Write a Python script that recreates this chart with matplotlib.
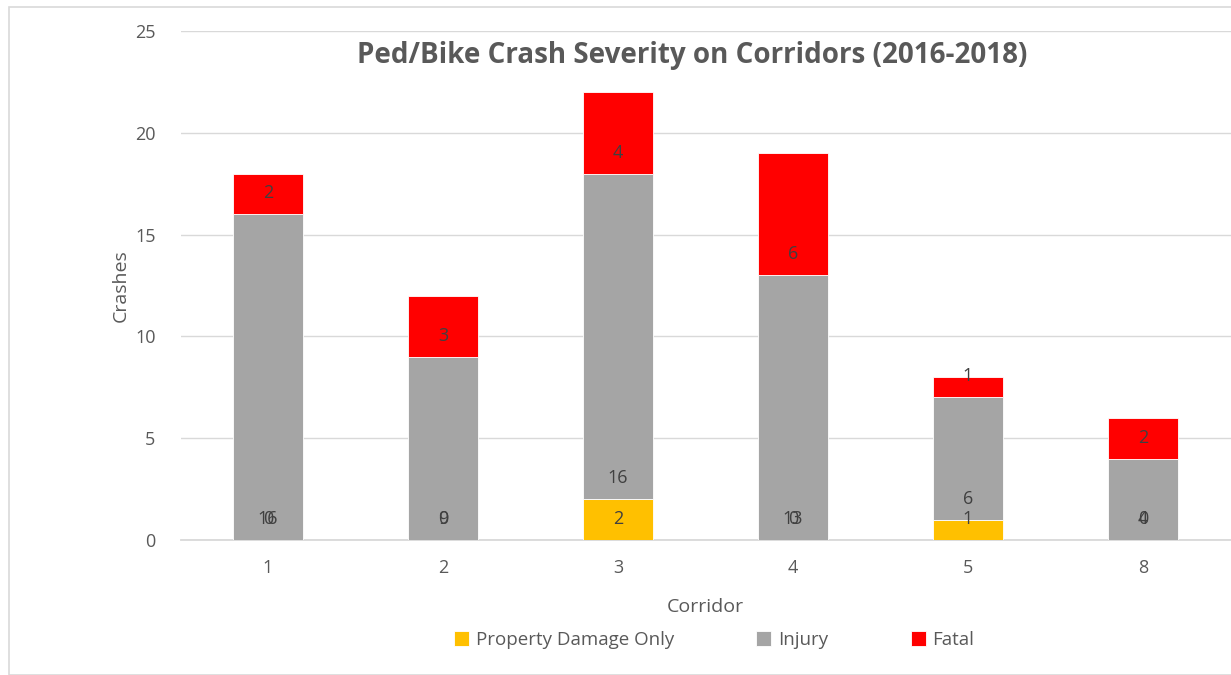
import matplotlib
matplotlib.use("Agg")
import matplotlib.pyplot as plt
from matplotlib.patches import Rectangle
import numpy as np

corridors = ["1", "2", "3", "4", "5", "8"]
property_damage = [0, 0, 2, 0, 1, 0]
injury = [16, 9, 16, 13, 6, 4]
fatal = [2, 3, 4, 6, 1, 2]
series_names = ["Property Damage Only", "Injury", "Fatal"]
colors = ["#FFC000", "#A5A5A5", "#FF0000"]
yticks = [0, 5, 10, 15, 20, 25]

plt.rcParams['font.family'] = ['Open Sans', 'DejaVu Sans']
txt = "#595959"

fig = plt.figure(figsize=(12.31, 6.75), dpi=100)
W, H = 1231, 675
ax = fig.add_axes([180.5 / W, 1 - 540 / H, 1050 / W, 509 / H])

x = np.arange(len(corridors))
bottom = np.zeros(len(corridors))
series = [property_damage, injury, fatal]
for name, vals, c in zip(series_names, series, colors):
    vals = np.array(vals, dtype=float)
    ax.bar(x, vals, width=0.4, bottom=bottom, color=c, edgecolor="white",
           linewidth=0.6, label=name, zorder=3)
    for xi, b, v in zip(x, bottom, vals):
        ax.annotate(f"{int(v)}", (xi, b), xytext=(0, 21), textcoords="offset pixels",
                    ha="center", va="center", fontsize=13, color="#404040", zorder=5)
    bottom = bottom + vals

ax.set_xlim(-0.5, len(corridors) - 0.5)
ax.set_ylim(0, 25)
ax.set_yticks(yticks)
ax.set_xticks(x)
ax.set_xticklabels(corridors)
ax.grid(axis="y", color="#D9D9D9", linewidth=1, zorder=0)
for s in ["left", "right", "top"]:
    ax.spines[s].set_visible(False)
ax.spines["bottom"].set_color("#D9D9D9")
ax.spines["bottom"].set_linewidth(1.3)
ax.tick_params(axis="both", length=0, labelsize=13, colors=txt)
ax.tick_params(axis="y", pad=18)
ax.tick_params(axis="x", pad=14)

ax.set_xlabel("Corridor", fontsize=14, color=txt, labelpad=15)
ax.set_ylabel("Crashes", fontsize=14, color=txt, labelpad=4)

fig.text(692 / W, 1 - 55 / H, "Ped/Bike Crash Severity on Corridors (2016-2018)",
         ha="center", va="center", fontsize=20, fontweight="bold", color=txt)

handles, labels = ax.get_legend_handles_labels()
fig.legend(handles, labels, loc="center", bbox_to_anchor=(714 / W, 1 - 640 / H),
           ncol=3, frameon=False, fontsize=13.5, labelcolor=txt,
           handlelength=0.8, handleheight=0.8, handletextpad=0.35, columnspacing=4.4)

fig.patches.append(Rectangle((9 / W, 0.5 / H), 1 - 9 / W + 0.01, 1 - 7.5 / H,
                             transform=fig.transFigure, fill=False,
                             edgecolor="#D9D9D9", linewidth=1.2))

fig.savefig("out.png", dpi=100)
